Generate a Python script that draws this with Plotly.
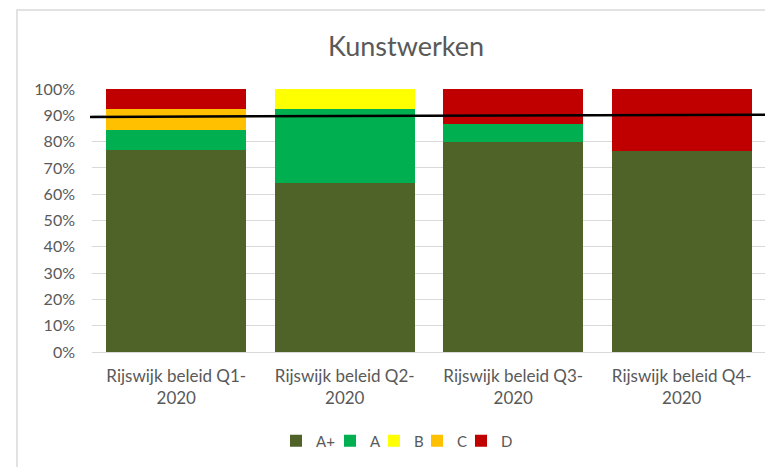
import plotly.graph_objects as go

categories = ["Rijswijk beleid Q1-2020", "Rijswijk beleid Q2-2020",
              "Rijswijk beleid Q3-2020", "Rijswijk beleid Q4-2020"]
tick_labels = ["Rijswijk beleid Q1-<br>2020", "Rijswijk beleid Q2-<br>2020",
               "Rijswijk beleid Q3-<br>2020", "Rijswijk beleid Q4-<br>2020"]
series_names = ["A+", "A", "B", "C", "D"]
a_plus = [76.9, 64.1, 80.0, 76.4]
a_vals = [7.7, 28.2, 6.7, 0.0]
b_vals = [0.0, 7.7, 0.0, 0.0]
c_vals = [7.7, 0.0, 0.0, 0.0]
d_vals = [7.7, 0.0, 13.3, 23.6]
target_start = 89.4
target_end = 90.2
y_ticks = [0, 10, 20, 30, 40, 50, 60, 70, 80, 90, 100]

colors = ["#4F6228", "#00B050", "#FFFF00", "#FFC000", "#C00000"]
values = [a_plus, a_vals, b_vals, c_vals, d_vals]

FONT = "Lato"
GREY = "#595959"

# page has an 8px body margin; figure sized/offset to compensate
W, H = 765, 459
L, T, PW, PH = 84, 81, 674, 263
PAGE_L, PAGE_T = 92, 89  # plot area position on the page

# legend entry positions (page px, left edge of swatch)
legend_px = [291, 345, 389, 432, 476]
LEG_Y_PAGE = 441

fig = go.Figure()
layout_legends = {}
for i, (name, vals, col) in enumerate(zip(series_names, values, colors)):
    key = "legend" if i == 0 else f"legend{i + 1}"
    fig.add_trace(go.Bar(x=categories, y=vals, name=name,
                         marker=dict(color=col, line=dict(width=0)),
                         hoverinfo="skip", legend=key))
    layout_legends[key] = dict(
        orientation="h", x=(legend_px[i] - 15 - PAGE_L) / PW, xanchor="left",
        y=(PAGE_T + PH - LEG_Y_PAGE) / PH, yanchor="middle",
        font=dict(size=15, color=GREY, family=FONT),
        itemwidth=30, bgcolor="rgba(0,0,0,0)", borderwidth=0)

fig.update_layout(
    barmode="stack",
    bargap=0.17,
    width=W, height=H,
    margin=dict(l=L, r=W - L - PW, t=T, b=H - T - PH, autoexpand=False),
    paper_bgcolor="white", plot_bgcolor="white",
    font=dict(family=FONT, color=GREY, size=16),
    title=dict(text="Kunstwerken", x=398 / W, xanchor="center",
               y=1 - 39 / H, yanchor="middle",
               font=dict(family=FONT, size=27, color=GREY)),
    showlegend=True,
    **layout_legends,
)
fig.update_xaxes(tickvals=categories, ticktext=tick_labels,
                 showgrid=False, showline=False, ticks="",
                 ticklabelstandoff=12,
                 tickfont=dict(size=17, color=GREY))
fig.update_yaxes(range=[0, 100], tickvals=y_ticks,
                 ticktext=[f"{v}%" for v in y_ticks],
                 showgrid=True, gridcolor="#D9D9D9", gridwidth=1,
                 zeroline=True, zerolinecolor="#D9D9D9", zerolinewidth=1,
                 showline=False, ticks="", ticklabelstandoff=16,
                 tickfont=dict(size=16, color=GREY))

# target line
fig.add_shape(type="line", xref="paper", yref="y",
              x0=-0.003, x1=0.9985, y0=target_start, y1=target_end,
              line=dict(color="black", width=2.5))
# chart border
fig.add_shape(type="rect", xref="paper", yref="paper",
              x0=(9 - L) / PW, x1=1.2, y0=-1.0, y1=1 + (T - 2) / PH,
              line=dict(color="#D9D9D9", width=1.5), layer="below")

fig.write_html("out.html")
